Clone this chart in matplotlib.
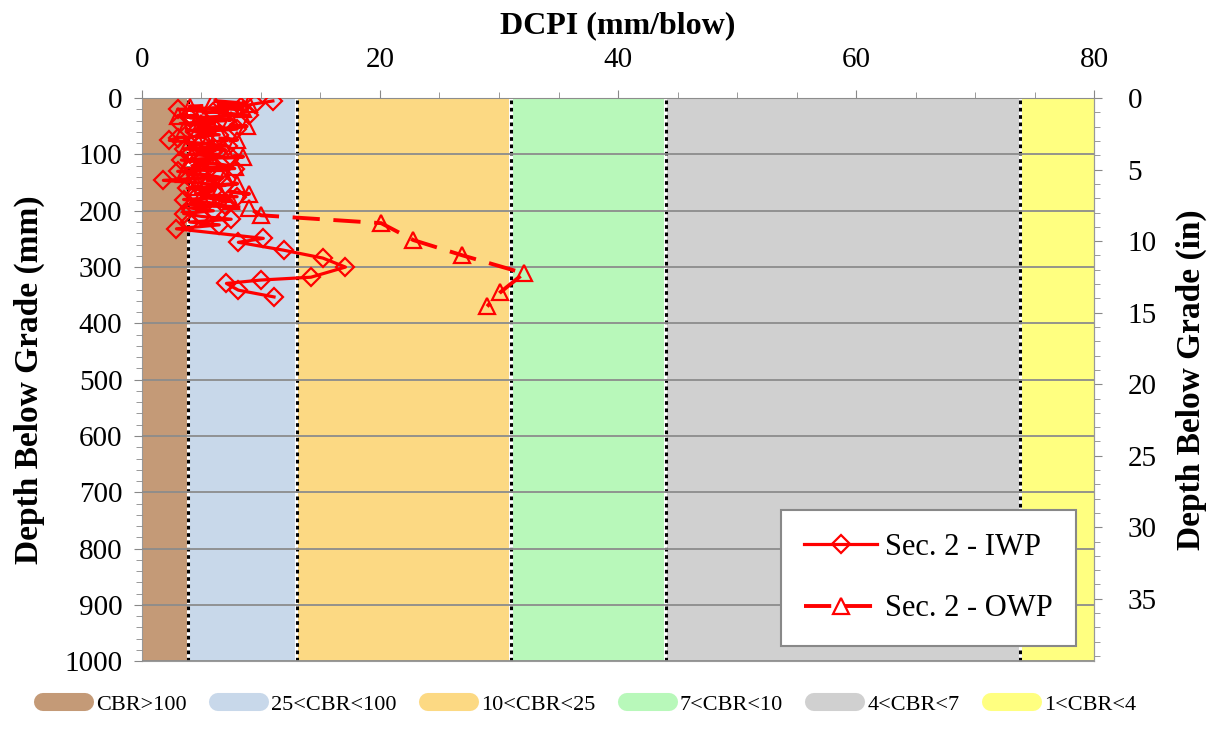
import numpy as np
import matplotlib.pyplot as plt
from matplotlib.lines import Line2D

plt.rcParams['font.family'] = ['Liberation Serif', 'DejaVu Serif']

# CBR zone limits along the DCPI axis (mm/blow)
zone_edges = [0, 3.9, 13, 31, 44, 73.8, 80]
zone_labels = ['CBR>100', '25<CBR<100', '10<CBR<25', '7<CBR<10', '4<CBR<7', '1<CBR<4']
zone_colors = ['#C49A77', '#C8D8EA', '#FCD983', '#B8F8BA', '#D0D0D0', '#FFFF80']

# Section 2, inner wheel path: DCPI (mm/blow) vs depth (mm)
iwp_dcpi = [11.0, 9.5, 8.3, 3.0, 6.0, 9.0, 4.0, 7.0, 3.2, 5.5, 8.0, 4.5, 6.5, 3.0,
            2.3, 5.0, 7.2, 3.5, 6.0, 4.0, 7.5, 3.3, 5.8, 4.2, 7.8, 3.0, 5.0, 6.5,
            1.8, 4.5, 7.0, 3.8, 6.0, 4.5, 8.0, 3.5, 5.5, 7.0, 4.0, 6.0, 3.5, 5.0,
            7.5, 4.0, 6.5, 2.9, 10.2, 8.1, 11.9, 15.2, 17.1, 14.2, 10.0, 7.1, 8.1, 11.1]
iwp_depth = [5, 10, 15, 20, 25, 30, 35, 40, 45, 50, 55, 60, 65, 70,
             75, 80, 85, 90, 95, 100, 105, 110, 115, 120, 125, 130, 135, 140,
             146, 150, 155, 160, 165, 170, 175, 180, 185, 190, 195, 200, 205, 210,
             215, 220, 225, 232, 249, 256, 270, 284, 300, 318, 323, 329, 341, 353]

# Section 2, outer wheel path
owp_dcpi = [6.0, 9.0, 4.0, 8.5, 5.0, 3.0, 7.5, 5.0, 8.8, 3.5, 6.5, 4.5, 8.0, 5.5,
            3.8, 7.0, 5.0, 8.5, 4.0, 6.0, 7.8, 4.5, 3.5, 7.0, 5.5, 8.0, 4.5, 6.5,
            9.0, 5.0, 7.5, 4.0, 9.0, 10.0, 20.1, 22.8, 26.9, 32.1, 30.1, 29.0]
owp_depth = [5, 10, 15, 20, 26, 32, 38, 44, 50, 56, 62, 68, 74, 80,
             86, 92, 98, 104, 110, 116, 122, 128, 134, 140, 146, 152, 158, 164,
             170, 176, 182, 188, 195, 208, 222, 252, 279, 311, 345, 370]

fig = plt.figure(figsize=(12.13, 7.38), dpi=100)
ax = fig.add_axes([0.117, 0.104, 0.785, 0.763])

for i in range(len(zone_labels)):
    lo = zone_edges[i] + (0.15 if i > 0 else 0)
    hi = zone_edges[i + 1] - (0.15 if i < len(zone_labels) - 1 else 0)
    ax.axvspan(lo, hi, color=zone_colors[i], lw=0, zorder=0)
for e in zone_edges[1:-1]:
    ax.axvline(e, color='black', ls=(0, (1.2, 1.2)), lw=2.2, zorder=1)

ax.set_xlim(0, 80)
ax.set_ylim(1000, 0)
ax.yaxis.grid(True, color='#8c8c8c', lw=1.3, zorder=1)
ax.set_axisbelow(False)

ax.plot(iwp_dcpi, iwp_depth, color='red', lw=2.3, marker='D', ms=9.5,
        mfc='none', mec='red', mew=1.6, label='Sec. 2 - IWP', zorder=4)
ax.plot(owp_dcpi, owp_depth, color='red', lw=2.8, ls=(0, (7, 3.5)), marker='^', ms=12,
        mfc='none', mec='red', mew=1.6, label='Sec. 2 - OWP', zorder=3)

ax.xaxis.tick_top()
ax.xaxis.set_label_position('top')
ax.set_xticks(np.arange(0, 81, 20))
ax.set_xticks(np.arange(0, 81, 5), minor=True)
ax.set_yticks(np.arange(0, 1001, 100))
ax.set_yticks(np.arange(0, 1001, 20), minor=True)
ax.tick_params(axis='both', which='major', labelsize=21, length=6, color='#888888')
ax.tick_params(axis='x', which='major', pad=12)
ax.tick_params(axis='y', which='major', pad=8)
ax.tick_params(axis='both', which='minor', length=4, color='#888888')
ax.set_xlabel('DCPI (mm/blow)', fontsize=23, fontweight='bold', labelpad=10)
ax.set_ylabel('Depth Below Grade (mm)', fontsize=24, fontweight='bold', labelpad=14)
for s in ax.spines.values():
    s.set_color('#999999')

# secondary depth axis in inches
ax2 = ax.secondary_yaxis('right', functions=(lambda d: d / 25.4, lambda d: d * 25.4))
ax2.set_yticks(np.arange(0, 36, 5))
ax2.set_yticks(np.arange(0, 40, 1), minor=True)
ax2.tick_params(which='major', labelsize=21, length=6, color='#888888', pad=18)
ax2.tick_params(which='minor', length=4, color='#888888')
ax2.spines['right'].set_color('#999999')
ax2.set_ylabel('Depth Below Grade (in)', fontsize=24, fontweight='bold', labelpad=14)

leg = ax.legend(loc='lower right', bbox_to_anchor=(0.987, 0.016), fontsize=22,
                frameon=True, fancybox=False, edgecolor='#888888', framealpha=1,
                handlelength=2.4, handletextpad=0.25, labelspacing=1.05,
                borderpad=0.75, borderaxespad=0.2)
leg.get_frame().set_linewidth(1.5)

handles = [Line2D([], [], color=c, lw=13, solid_capstyle='round') for c in zone_colors]
fig.legend(handles, zone_labels, loc='center', bbox_to_anchor=(0.486, 0.045), ncol=6,
           frameon=False, fontsize=16, handlelength=1.9,
           columnspacing=1.4, handletextpad=0.5)

fig.savefig('out.png', dpi=100)
